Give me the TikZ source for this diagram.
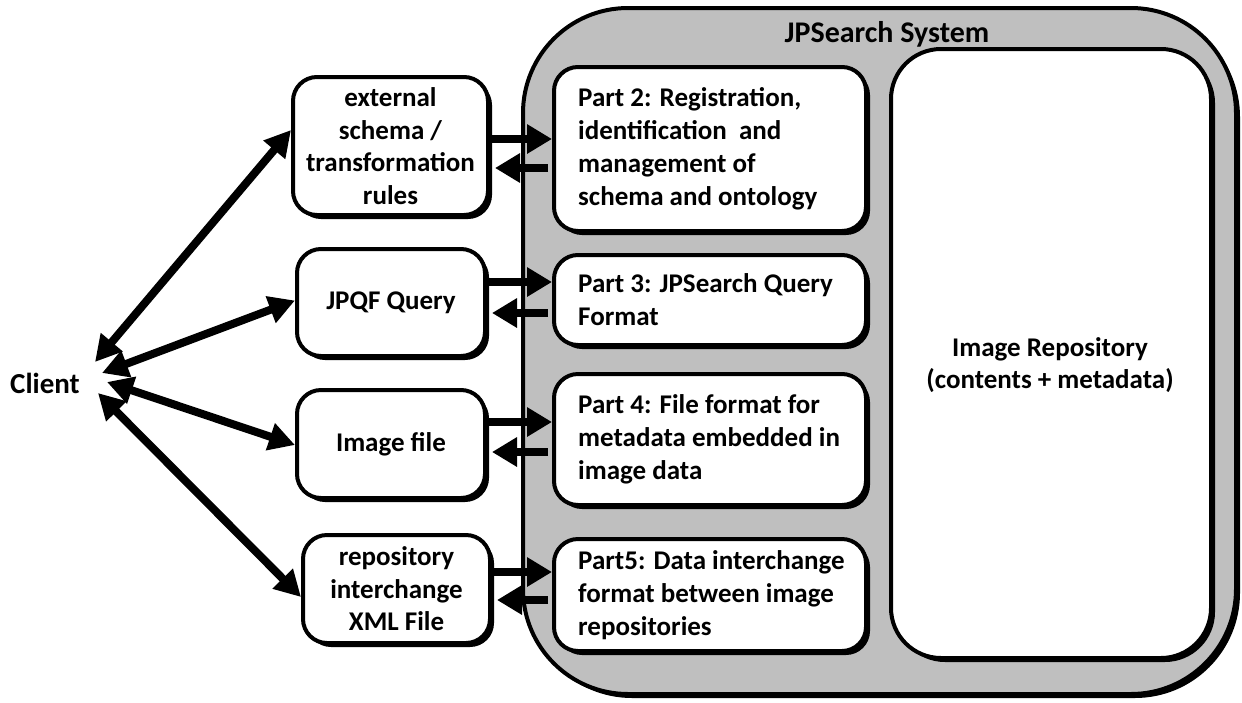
\documentclass[tikz,border=0pt]{standalone}
\usepackage{fontspec}
\setmainfont{Carlito}
\usetikzlibrary{arrows.meta,shadows,calc}
\begin{document}
\begin{tikzpicture}[x=1pt,y=-1pt,
  txt/.style={font=\bfseries\fontsize{27}{32.5}\selectfont, align=center, inner sep=0pt},
  ptxt/.style={font=\bfseries\fontsize{27}{33}\selectfont, align=left, inner sep=0pt, anchor=west},
  lbox/.style={draw=black, line width=4pt, fill=white, rounded corners=24pt, inner sep=0pt,
    drop shadow={shadow xshift=4pt, shadow yshift=-4pt, fill=black, opacity=1}},
  arr/.style={line width=8pt, -{Triangle[length=25pt,width=28pt]}},
  darr/.style={line width=8pt, {Triangle[length=26pt,width=27pt]}-{Triangle[length=26pt,width=27pt]}},
]
\useasboundingbox (0,0) rectangle (1242,702);

% system container
\node[lbox, fill=black!25, rounded corners=105pt, minimum width=713, minimum height=686] (sys) at (879.5,351) {};
\node[txt, font=\bfseries\fontsize{30}{36}\selectfont] (title) at (887,34) {JPSearch System};

% parts
\node[lbox, minimum width=312, minimum height=164] (p2) at (710,149) {};
\node[ptxt] (p2t) at ([xshift=26]p2.west) {Part 2: Registration,\\identification\ \ and\\management of\\schema and ontology};
\node[lbox, minimum width=312, minimum height=90] (p3) at (710,300) {};
\node[ptxt] (p3t) at ([xshift=26]p3.west) {Part 3: JPSearch Query\\Format};
\node[lbox, minimum width=312, minimum height=131] (p4) at (710,439.5) {};
\node[ptxt] (p4t) at ([xshift=26]p4.west) {Part 4: File format for\\metadata embedded in\\image data};
\node[lbox, minimum width=312, minimum height=112] (p5) at (710,595) {};
\node[ptxt] (p5t) at ([xshift=26]p5.west) {Part5: Data interchange\\format between image\\repositories};

% repository
\node[lbox, rounded corners=50pt, minimum width=320, minimum height=609] (repo) at (1051,353.5) {};
\node[txt] (repot) at (1050,365) {Image Repository\\(contents + metadata)};

% left boxes
\node[lbox, txt, minimum width=195, minimum height=138] (ext) at (390.5,146) {external\\schema /\\transformation\\rules};
\node[lbox, txt, minimum width=188, minimum height=107] (jpqf) at (391,302.5) {JPQF Query};
\node[lbox, txt, minimum width=188, minimum height=108] (img) at (391,444) {Image file};
\node[lbox, txt, minimum width=187, minimum height=108] (rep) at (396.5,589) {repository\\interchange\\XML File};

% client
\node[txt, font=\bfseries\fontsize{29}{34}\selectfont] (client) at (45,383) {Client};
\coordinate (c1) at (95,362);
\coordinate (c2) at (102,373);
\coordinate (c3) at (107,382);
\coordinate (c4) at (98,393);

\draw[darr] (c1) -- ([yshift=16]ext.west);
\draw[darr] (c2) -- ([yshift=2]jpqf.west);
\draw[darr] (c3) -- ([yshift=-1]img.west);
\draw[darr] (c4) -- ([yshift=-8]rep.west);

% short arrows
\coordinate (e1) at ([yshift=7]ext.east);
\coordinate (e2) at ([xshift=5,yshift=-22]ext.east);
\draw[arr] (e1) -- (e1 -| p2.west);
\draw[arr] ([xshift=-4]e2 -| p2.west) -- (e2);

\coordinate (j1) at ([yshift=20.5]jpqf.east);
\coordinate (j2) at ([xshift=5,yshift=-10.5]jpqf.east);
\draw[arr] (j1) -- (j1 -| p3.west);
\draw[arr] ([xshift=-4]j2 -| p3.west) -- (j2);

\coordinate (i1) at ([yshift=22]img.east);
\coordinate (i2) at ([xshift=5,yshift=-8]img.east);
\draw[arr] (i1) -- (i1 -| p4.west);
\draw[arr] ([xshift=-4]i2 -| p4.west) -- (i2);

\coordinate (r1) at ([yshift=17]rep.east);
\coordinate (r2) at ([xshift=5,yshift=-11]rep.east);
\draw[arr] (r1) -- (r1 -| p5.west);
\draw[arr] ([xshift=-4]r2 -| p5.west) -- (r2);
\end{tikzpicture}
\end{document}
